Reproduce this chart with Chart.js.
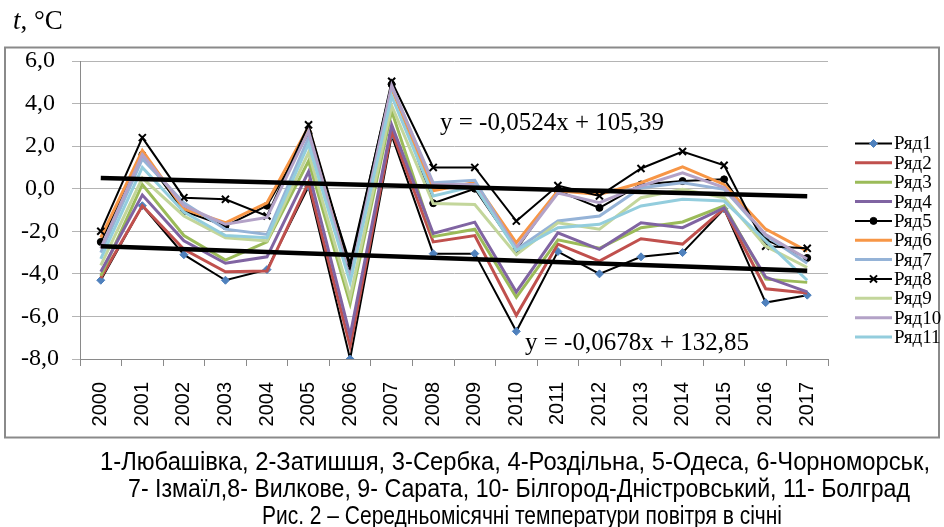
<!DOCTYPE html>
<html><head><meta charset="utf-8">
<script src="https://cdn.jsdelivr.net/npm/chart.js@4.4.1/dist/chart.umd.min.js"></script>
<style>
html,body{margin:0;padding:0;background:#fff;}
#wrap{position:relative;width:944px;height:527px;overflow:hidden;background:#fff;}
#c{position:absolute;left:0;top:0;}
.cap{position:absolute;white-space:nowrap;line-height:1;font-family:'Liberation Sans',Arial,sans-serif;color:#000;transform-origin:0 0;}
#unit{position:absolute;left:13px;top:7px;font-family:'Liberation Serif','Times New Roman',serif;font-size:27px;line-height:1;color:#000;}
</style></head><body>
<div id="wrap">
<canvas id="c" width="944" height="527" style="width:944px;height:527px"></canvas>
<div id="unit"><i>t</i>, °C</div>
<div class="cap" data-l="100" data-r="930" style="top:448px;font-size:26px">1-Любашівка, 2-Затишшя, 3-Сербка, 4-Роздільна, 5-Одеса, 6-Чорноморськ,</div>
<div class="cap" data-l="128" data-r="910" style="top:475px;font-size:26px">7- Ізмаїл,8- Вилкове, 9- Сарата, 10- Білгород-Дністровський, 11- Болград</div>
<div class="cap" data-l="262" data-r="782" style="top:502px;font-size:26px">Рис. 2 – Середньомісячні температури повітря в січні</div>
</div>
<script>
const years = ['2000','2001','2002','2003','2004','2005','2006','2007','2008','2009','2010','2011','2012','2013','2014','2015','2016','2017'];
const seriesNames = ['Ряд1','Ряд2','Ряд3','Ряд4','Ряд5','Ряд6','Ряд7','Ряд8','Ряд9','Ряд10','Ряд11'];
const r1  = [-4.3,-0.8,-3.1,-4.3,-3.8,0.1,-8.0,2.5,-3.05,-3.05,-6.7,-2.95,-4.0,-3.2,-3.0,-0.95,-5.35,-5.0];
const r2  = [-4.2,-0.8,-2.85,-3.9,-3.87,0.3,-7.4,2.7,-2.5,-2.2,-5.95,-2.6,-3.4,-2.35,-2.6,-0.94,-4.7,-4.9];
const r3  = [-4.1,0.2,-2.2,-3.35,-2.5,1.3,-5.4,3.65,-2.25,-1.9,-5.1,-2.4,-2.8,-1.83,-1.56,-0.81,-4.25,-4.4];
const r4  = [-3.9,-0.3,-2.45,-3.5,-3.2,0.8,-6.9,3.0,-2.1,-1.57,-4.85,-2.07,-2.85,-1.6,-1.83,-0.9,-4.15,-4.85];
const r5  = [-2.5,1.6,-1.05,-1.75,-0.8,2.6,-3.5,4.9,-0.68,0.0,-2.85,-0.1,-0.9,0.2,0.36,0.44,-2.4,-3.25];
const r6  = [-2.3,1.8,-0.95,-1.6,-0.66,2.9,-4.0,4.7,-0.1,0.3,-2.54,-0.1,-0.27,0.28,1.03,0.2,-1.9,-2.93];
const r7  = [-3.0,1.4,-0.66,-1.9,-2.15,2.4,-4.1,4.8,0.28,0.4,-2.85,-1.52,-1.28,0.05,0.28,-0.03,-2.2,-3.5];
const r8  = [-2.0,2.4,-0.42,-0.5,-1.28,3.0,-3.7,5.05,1.0,1.0,-1.52,0.15,-0.34,0.95,1.75,1.1,-2.7,-2.8];
const r9  = [-3.6,0.5,-1.28,-2.3,-2.45,1.7,-5.1,3.9,-0.7,-0.74,-3.1,-1.6,-1.9,-0.42,-0.03,-0.42,-2.7,-3.7];
const r10 = [-2.8,1.6,-0.8,-1.67,-1.35,2.7,-4.25,4.85,0.2,0.2,-2.77,-0.2,-0.66,0.13,0.75,0.05,-2.15,-3.3];
const r11 = [-3.3,1.0,-1.1,-2.2,-2.3,2.1,-4.4,4.35,-0.34,0.12,-2.9,-1.83,-1.67,-0.81,-0.5,-0.58,-2.45,-4.3];
// trend lines (endpoints)
const trendUpper = [0.5,null,null,null,null,null,null,null,null,null,null,null,null,null,null,null,null,-0.35];
const trendLower = [-2.7,null,null,null,null,null,null,null,null,null,null,null,null,null,null,null,null,-3.85];
const yTicks = [6,4,2,0,-2,-4,-6,-8];
const eqUpper = 'y = -0,0524x + 105,39';
const eqLower = 'y = -0,0678x + 132,85';

const seriesValues = [r1,r2,r3,r4,r5,r6,r7,r8,r9,r10,r11];
const colors = ['#000000','#C0504D','#9BBB59','#8064A2','#000000','#F79646','#95B3D7','#000000','#C3D69B','#B3A2C7','#93CDDD'];
const markers = {0:{style:'rectRot',r:4,bg:'#4F81BD',bc:'#4F81BD'},4:{style:'circle',r:3.5,bg:'#000',bc:'#000'},7:{style:'crossRot',r:5,bg:'#000',bc:'#000'}};

const datasets = seriesValues.map((vals,i)=>{
  const m = markers[i];
  const black = colors[i]==='#000000';
  return {
    label: seriesNames[i], data: vals, borderColor: colors[i], backgroundColor: colors[i],
    borderWidth: black?2:3, tension:0, fill:false, order:-i,
    pointStyle: m?m.style:'circle', pointRadius: m?m.r:0,
    pointBackgroundColor: m?m.bg:colors[i], pointBorderColor: m?m.bc:colors[i],
    pointBorderWidth: m&&m.style==='crossRot'?2:1
  };
});
[trendUpper,trendLower].forEach((t,k)=>datasets.push({
  label:'trend'+k, data:t, borderColor:'#000', borderWidth:4.5, pointRadius:0, spanGaps:true, order:-30, tension:0, fill:false, isTrend:true
}));

const framePlugin = {
  id:'frame',
  beforeDraw(chart){
    const ctx=chart.ctx; ctx.save();
    ctx.fillStyle='#fff'; ctx.fillRect(0,0,chart.width,chart.height);
    ctx.strokeStyle='#8a8a8a'; ctx.lineWidth=2;
    ctx.strokeRect(5,47.5,934,390);
    ctx.restore();
  },
  afterDraw(chart){
    const ctx=chart.ctx; ctx.save();
    ctx.fillStyle='#000'; ctx.font='25px "Liberation Serif", "Times New Roman", serif';
    ctx.textBaseline='middle'; ctx.textAlign='left';
    ctx.fillText(eqUpper,440,123);
    ctx.fillText(eqLower,525,343);
    ctx.font='19px "Liberation Serif", "Times New Roman", serif';
    chart.data.datasets.forEach((ds,i)=>{
      if(ds.isTrend) return;
      const y=143.5+i*19.35;
      ctx.strokeStyle=ds.borderColor; ctx.lineWidth=ds.borderWidth;
      ctx.beginPath(); ctx.moveTo(855,y); ctx.lineTo(892,y); ctx.stroke();
      if(ds.pointRadius>0){
        ctx.fillStyle=ds.pointBackgroundColor; ctx.strokeStyle=ds.pointBorderColor; ctx.lineWidth=ds.pointBorderWidth;
        Chart.helpers.drawPoint(ctx,{pointStyle:ds.pointStyle,radius:ds.pointRadius,borderWidth:ds.pointBorderWidth,rotation:0},873.5,y);
      }
      ctx.fillStyle='#000';
      ctx.fillText(ds.label,894,y+1);
    });
    ctx.restore();
  }
};

new Chart(document.getElementById('c'),{
  type:'line',
  data:{labels:years,datasets},
  options:{
    responsive:false, animation:false, devicePixelRatio:1,
    layout:{padding:{left:0,top:61,right:116,bottom:0}},
    plugins:{legend:{display:false},tooltip:{enabled:false}},
    scales:{
      x:{
        offset:true,
        grid:{display:true,offset:true,drawOnChartArea:false,drawTicks:true,tickLength:7,color:'#8a8a8a',lineWidth:1},
        border:{display:true,color:'#8a8a8a',width:1},
        ticks:{maxRotation:90,minRotation:90,autoSkip:false,padding:16,color:'#000',font:{family:'"Liberation Sans", Arial, sans-serif',size:20}},
        afterFit(s){s.height=527-359;}
      },
      y:{
        min:-8,max:6,
        afterBuildTicks(s){s.ticks=yTicks.map(v=>({value:v}));},
        grid:{color:'#b4b4b4',lineWidth:1,tickLength:8,drawTicks:true},
        border:{display:true,color:'#8a8a8a',width:1},
        ticks:{crossAlign:'center',padding:13,color:'#000',font:{family:'"Liberation Serif", "Times New Roman", serif',size:24},
          callback:(v)=>Number(v).toFixed(1).replace('.',',')},
        afterFit(s){s.width=80;}
      }
    }
  },
  plugins:[framePlugin]
});

// fit caption lines to their measured extents in the reference
document.querySelectorAll('.cap').forEach(el=>{
  const l=+el.dataset.l, r=+el.dataset.r;
  const w=el.getBoundingClientRect().width;
  el.style.left=l+'px';
  el.style.transform='scaleX('+((r-l)/w)+')';
});
</script>
</body></html>
